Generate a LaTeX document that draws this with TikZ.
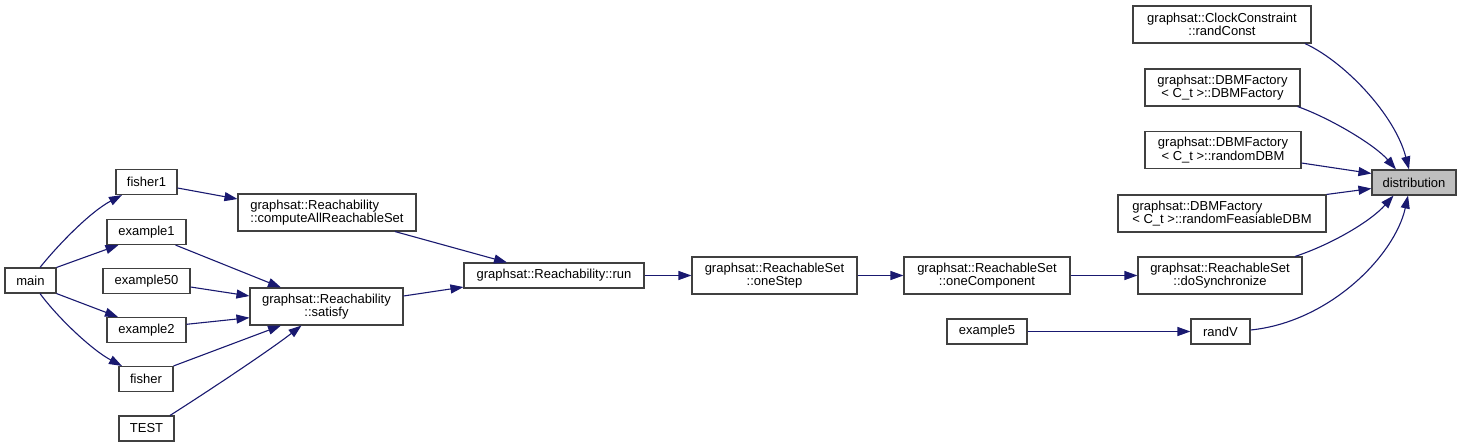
\documentclass[tikz,border=0pt]{standalone}
\usepackage{fontspec}
\setmainfont{Liberation Sans}
\usetikzlibrary{arrows.meta,calc}
\definecolor{edgec}{HTML}{191970}
\definecolor{boxc}{HTML}{404040}
\definecolor{hl}{HTML}{BFBFBF}
\begin{document}
\begin{tikzpicture}[x=1pt,y=-1pt,
  box/.style={draw=boxc,fill=white,line width=1.1pt,inner sep=0pt,align=center,font=\fontsize{13}{13.7}\selectfont},
  one/.style={box,minimum height=25pt},
  two/.style={box,minimum height=37pt},
  edge/.style={draw=edgec,line width=1.1pt,-{Triangle[length=13pt,width=9pt]}}]
\fill[white] (0,0) rectangle (1462,447);
\useasboundingbox (0,0) rectangle (1462,447);
% left column
\node[one,minimum width=51pt] (main) at (30.5,280.5) {main};
\node[one,minimum width=61pt] (fisherA) at (146.5,182) {fisher1};
\node[one,minimum width=79pt] (exA) at (146.5,232) {example1};
\node[one,minimum width=87pt] (exL) at (146.5,281) {example50};
\node[one,minimum width=79pt] (exB) at (146.5,330) {example2};
\node[one,minimum width=54pt] (fisher) at (146,379) {fisher};
\node[one,minimum width=55pt] (test) at (146.5,428.5) {TEST};
% reachability
\node[two,minimum width=178pt,align=left] (cars) at (327,212.5) {graphsat::Reachability\\::computeAllReachableSet};
\node[two,minimum width=153pt] (sat) at (326.5,306.5) {graphsat::Reachability\\::satisfy};
\node[one,minimum width=180pt] (run) at (554,275.5) {graphsat::Reachability::run};
\node[two,minimum width=165pt] (step) at (774.5,275.5) {graphsat::ReachableSet\\::oneStep};
\node[two,minimum width=166pt] (comp) at (987,275.5) {graphsat::ReachableSet\\::oneComponent};
\node[two,minimum width=164pt] (sync) at (1220,275.5) {graphsat::ReachableSet\\::doSynchronize};
\node[one,minimum width=80pt] (exC) at (987,331.5) {example5};
\node[one,minimum width=59pt] (randv) at (1220.5,331.5) {randV};
% right column
\node[two,minimum width=178pt] (rc) at (1222,24.5) {graphsat::ClockConstraint\\::randConst};
\node[two,minimum width=155pt] (dbmf) at (1222.5,87.5) {graphsat::DBMFactory\\< C\_t >::DBMFactory};
\node[two,minimum width=156pt] (rdbm) at (1223,150) {graphsat::DBMFactory\\< C\_t >::randomDBM};
\node[two,minimum width=208pt,align=left] (rf) at (1222,213.5) {graphsat::DBMFactory\\< C\_t >::randomFeasiableDBM};
\node[one,minimum width=84pt,fill=hl] (dist) at (1414,182.5) {distribution};
% edges
\draw[edge] ([xshift=9.5pt]main.north) .. controls (58,245) and (90,212) .. ([xshift=-24.5pt]fisherA.south);
\draw[edge] (main.north east) -- ([xshift=-28pt]exA.south);
\draw[edge] (main.south east) -- ([xshift=-28.5pt]exB.north);
\draw[edge] ([xshift=9.5pt]main.south) .. controls (58,318) and (92,350) .. ([xshift=-24pt]fisher.north);
\draw[edge] ([yshift=-6pt]fisherA.east) -- ([yshift=13.5pt]cars.west);
\draw[edge] ([xshift=29pt]exA.south) -- ([xshift=-45.5pt]sat.north);
\draw[edge] ([yshift=-6pt]exL.east) -- ([yshift=10.5pt]sat.west);
\draw[edge] ([yshift=5.7pt]exB.east) -- ([yshift=-11.2pt]sat.west);
\draw[edge] (fisher.north east) -- ([xshift=-45.5pt]sat.south);
\draw[edge] ([xshift=23.5pt]test.north) .. controls (210,390) and (270,350) .. ([xshift=-25pt]sat.south);
\draw[edge] ([xshift=68pt]cars.south) -- ([xshift=-47pt]run.north);
\draw[edge] ([yshift=10.5pt]sat.east) -- ([yshift=1.5pt]run.south west);
\draw[edge] (run.east) -- (step.west);
\draw[edge] (step.east) -- (comp.west);
\draw[edge] (comp.east) -- (sync.west);
\draw[edge] (exC.east) -- (randv.west);
\draw[edge] ([xshift=75pt]sync.north) .. controls (1330,245) and (1370,222) .. ([xshift=-20.5pt]dist.south);
\draw[edge] ([yshift=1.5pt]randv.east) .. controls (1330,322) and (1395,255) .. ([xshift=-6pt]dist.south);
\draw[edge] ([xshift=83pt]rc.south) .. controls (1345,62) and (1395,115) .. ([xshift=-5pt]dist.north);
\draw[edge] ([xshift=75pt]dbmf.south) .. controls (1330,118) and (1375,145) .. ([xshift=-18pt]dist.north);
\draw[edge] ([yshift=-13pt]rdbm.east) -- ([yshift=9pt]dist.west);
\draw[edge] (rf.north east) -- ([yshift=-6pt]dist.west);
\end{tikzpicture}
\end{document}
